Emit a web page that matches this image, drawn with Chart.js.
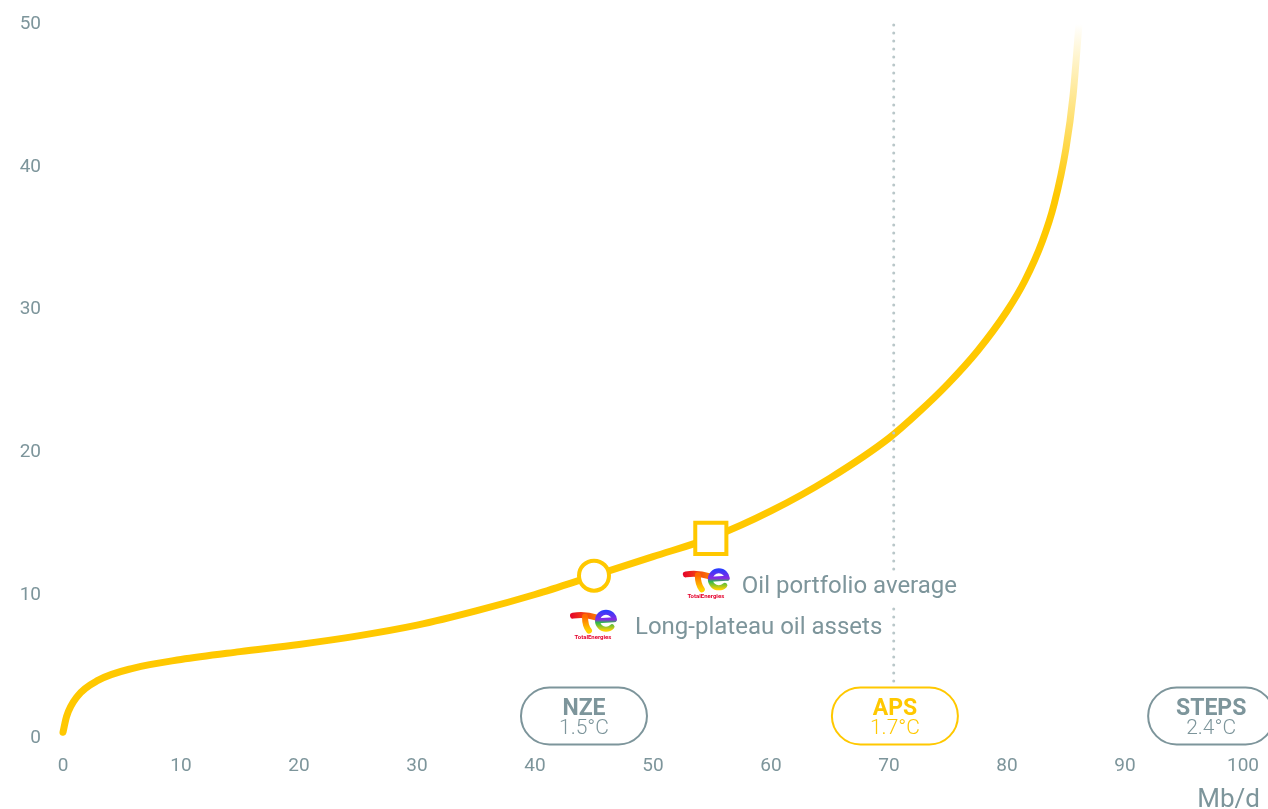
<!DOCTYPE html>
<html>
<head>
<meta charset="utf-8">
<script src="https://cdn.jsdelivr.net/npm/chart.js@4.4.1/dist/chart.umd.min.js"></script>
<style>
  html, body { margin: 0; padding: 0; background: #fff; }
  #wrap { width: 1268px; height: 809px; }
</style>
</head>
<body>
<div id="wrap"><canvas id="c" width="1268" height="809"></canvas></div>
<script>
// Cost curve: break-even ($/b) vs cumulative supply (Mb/d)
const SUPPLY = [0, 0.3, 1.2, 3, 6, 10, 15, 20, 25, 30, 35, 40, 45, 50, 55, 60, 65, 70, 72.5, 75, 77.5, 80, 81.5, 83, 84, 85, 85.6, 86.1];
const COST   = [0.4, 1.5, 2.9, 4.05, 4.9, 5.5, 6.05, 6.55, 7.15, 7.9, 8.9, 10.05, 11.37, 12.7, 14.05, 15.9, 18.2, 21.0, 22.8, 24.8, 27.1, 29.9, 32.0, 34.8, 37.4, 41.3, 45.0, 50];

const LONG_PLATEAU = { x: 45.0, y: 11.37, label: "Long-plateau oil assets" };
const PORTFOLIO_AVG = { x: 54.9, y: 13.98, label: "Oil portfolio average" };

const SCENARIOS = ["NZE", "APS", "STEPS"];
const SCENARIO_TEMPS = ["1.5°C", "1.7°C", "2.4°C"];
const SCENARIO_X = [44.15, 70.5, 97.3];
const APS_LINE_X = 70.4;

const X_TICKS = [0, 10, 20, 30, 40, 50, 60, 70, 80, 90, 100];
const Y_TICKS = [0, 10, 20, 30, 40, 50];
const X_UNIT = "Mb/d";

const YELLOW = "#ffc800";
const INK = "#7d959b";
const DOTS = "#b9c7c9";
const FONT = "Roboto, 'Noto Sans', sans-serif";

function curveColor(ctx) {
  const area = ctx.chart.chartArea;
  if (!area) return YELLOW;
  const y = ctx.chart.scales.y;
  const g = ctx.chart.ctx.createLinearGradient(0, y.getPixelForValue(38), 0, y.getPixelForValue(50));
  g.addColorStop(0, YELLOW);
  g.addColorStop(1, "rgba(255,255,255,1)");
  return g;
}

function drawLogo(ctx, x, y) {
  // simplified TotalEnergies mark
  ctx.save();
  ctx.lineCap = "round";
  let g = ctx.createLinearGradient(x, 0, x + 28, 0);
  g.addColorStop(0, "#e4002b");
  g.addColorStop(1, "#ff7f00");
  ctx.strokeStyle = g;
  ctx.lineWidth = 6;
  ctx.beginPath();
  ctx.moveTo(x + 3, y + 7);
  ctx.quadraticCurveTo(x + 15, y + 5, x + 27, y + 9);
  ctx.stroke();
  g = ctx.createLinearGradient(0, y + 8, 0, y + 22);
  g.addColorStop(0, "#ff6a00");
  g.addColorStop(1, "#ffd200");
  ctx.strokeStyle = g;
  ctx.beginPath();
  ctx.moveTo(x + 15, y + 8);
  ctx.quadraticCurveTo(x + 15, y + 17, x + 19, y + 22);
  ctx.stroke();
  g = ctx.createLinearGradient(0, y + 2, 0, y + 22);
  g.addColorStop(0, "#2a3cff");
  g.addColorStop(0.45, "#8a2be2");
  g.addColorStop(0.6, "#2db84d");
  g.addColorStop(1, "#ffd200");
  ctx.strokeStyle = g;
  ctx.lineWidth = 5;
  ctx.beginPath();
  ctx.arc(x + 36, y + 12, 8.5, Math.PI * 0.25, Math.PI * 1.95);
  ctx.stroke();
  ctx.beginPath();
  ctx.moveTo(x + 28, y + 12);
  ctx.lineTo(x + 44, y + 11);
  ctx.stroke();
  ctx.fillStyle = "#e4002b";
  ctx.font = "bold 6px " + FONT;
  ctx.textAlign = "center";
  ctx.textBaseline = "middle";
  ctx.fillText("TotalEnergies", x + 23, y + 29);
  ctx.restore();
}

function pill(ctx, cx, cy, name, temp, color) {
  const w = 126, h = 57;
  ctx.save();
  ctx.lineWidth = 2;
  ctx.strokeStyle = color;
  ctx.fillStyle = "#fff";
  ctx.beginPath();
  ctx.roundRect(cx - w / 2, cy - h / 2, w, h, h / 2);
  ctx.fill();
  ctx.stroke();
  ctx.fillStyle = color;
  ctx.textAlign = "center";
  ctx.textBaseline = "middle";
  ctx.font = "bold 23px " + FONT;
  ctx.fillText(name, cx, cy - 7);
  ctx.font = "300 21px " + FONT;
  ctx.fillText(temp, cx, cy + 13);
  ctx.restore();
}

// label with a white box behind it so the dotted line breaks around it
function label(ctx, text, x, y) {
  const w = ctx.measureText(text).width;
  ctx.save();
  ctx.fillStyle = "#fff";
  ctx.fillRect(x - 2, y - 16, w + 4, 32);
  ctx.restore();
  ctx.fillText(text, x, y);
}

const extras = {
  id: "extras",
  afterDatasetsDraw(chart) {
    const { ctx, chartArea, scales } = chart;
    const px = scales.x.getPixelForValue(APS_LINE_X);
    ctx.save();
    ctx.strokeStyle = DOTS;
    ctx.lineWidth = 3;
    ctx.lineCap = "round";
    ctx.setLineDash([0, 8]);
    ctx.beginPath();
    ctx.moveTo(px, chartArea.top + 1);
    ctx.lineTo(px, chartArea.bottom - 56);
    ctx.stroke();
    ctx.restore();
  },
  afterDraw(chart) {
    const { ctx, chartArea, scales } = chart;
    ctx.save();
    ctx.fillStyle = INK;
    ctx.font = "24px " + FONT;
    ctx.textBaseline = "middle";
    ctx.textAlign = "left";
    let p = { x: scales.x.getPixelForValue(LONG_PLATEAU.x), y: scales.y.getPixelForValue(LONG_PLATEAU.y) };
    drawLogo(ctx, p.x - 24, p.y + 33);
    ctx.fillText(LONG_PLATEAU.label, p.x + 41, p.y + 52);
    p = { x: scales.x.getPixelForValue(PORTFOLIO_AVG.x), y: scales.y.getPixelForValue(PORTFOLIO_AVG.y) };
    drawLogo(ctx, p.x - 28, p.y + 29);
    label(ctx, PORTFOLIO_AVG.label, p.x + 31, p.y + 49);

    ctx.font = "26px " + FONT;
    ctx.textAlign = "right";
    ctx.fillText(X_UNIT, chart.width - 8, chartArea.bottom + 62);
    ctx.restore();

    SCENARIOS.forEach((s, i) => {
      const cx = scales.x.getPixelForValue(SCENARIO_X[i]);
      pill(ctx, cx, chartArea.bottom - 22, s, SCENARIO_TEMPS[i], s === "APS" ? YELLOW : INK);
    });
  },
};

new Chart(document.getElementById("c"), {
  type: "scatter",
  data: {
    datasets: [
      {
        data: [{ x: LONG_PLATEAU.x, y: LONG_PLATEAU.y }],
        pointStyle: "circle", pointRadius: 15, pointHoverRadius: 15,
        pointBorderWidth: 4, pointBackgroundColor: "#fff", pointBorderColor: YELLOW,
        order: 0,
      },
      {
        data: [{ x: PORTFOLIO_AVG.x, y: PORTFOLIO_AVG.y }],
        pointStyle: "rect", pointRadius: 22, pointHoverRadius: 22,
        pointBorderWidth: 4, pointBackgroundColor: "#fff", pointBorderColor: YELLOW,
        order: 1,
      },
      {
        data: SUPPLY.map((x, i) => ({ x, y: COST[i] })),
        showLine: true,
        borderColor: curveColor,
        borderWidth: 7,
        borderCapStyle: "round",
        cubicInterpolationMode: "monotone",
        pointRadius: 0,
        clip: false,
        order: 2,
      },
    ],
  },
  options: {
    responsive: false,
    animation: false,
    events: [],
    layout: { autoPadding: false, padding: { top: 24, right: 25, left: 0, bottom: 0 } },
    plugins: { legend: { display: false }, tooltip: { enabled: false } },
    scales: {
      x: {
        type: "linear", min: 0, max: 100,
        afterBuildTicks: (s) => { s.ticks = X_TICKS.map((v) => ({ value: v })); },
        afterFit: (s) => { s.height = 71; s.paddingLeft = 0; s.paddingRight = 0; },
        grid: { display: false, drawTicks: false },
        border: { display: false },
        ticks: { padding: 17, color: INK, font: { family: FONT, size: 19 } },
      },
      y: {
        type: "linear", min: 0, max: 50,
        afterBuildTicks: (s) => { s.ticks = Y_TICKS.map((v) => ({ value: v })); },
        afterFit: (s) => { s.width = 63; s.paddingTop = 0; s.paddingBottom = 0; },
        grid: { display: false, drawTicks: false },
        border: { display: false },
        ticks: { padding: 22, color: INK, font: { family: FONT, size: 19 } },
      },
    },
  },
  plugins: [extras],
});
</script>
</body>
</html>
